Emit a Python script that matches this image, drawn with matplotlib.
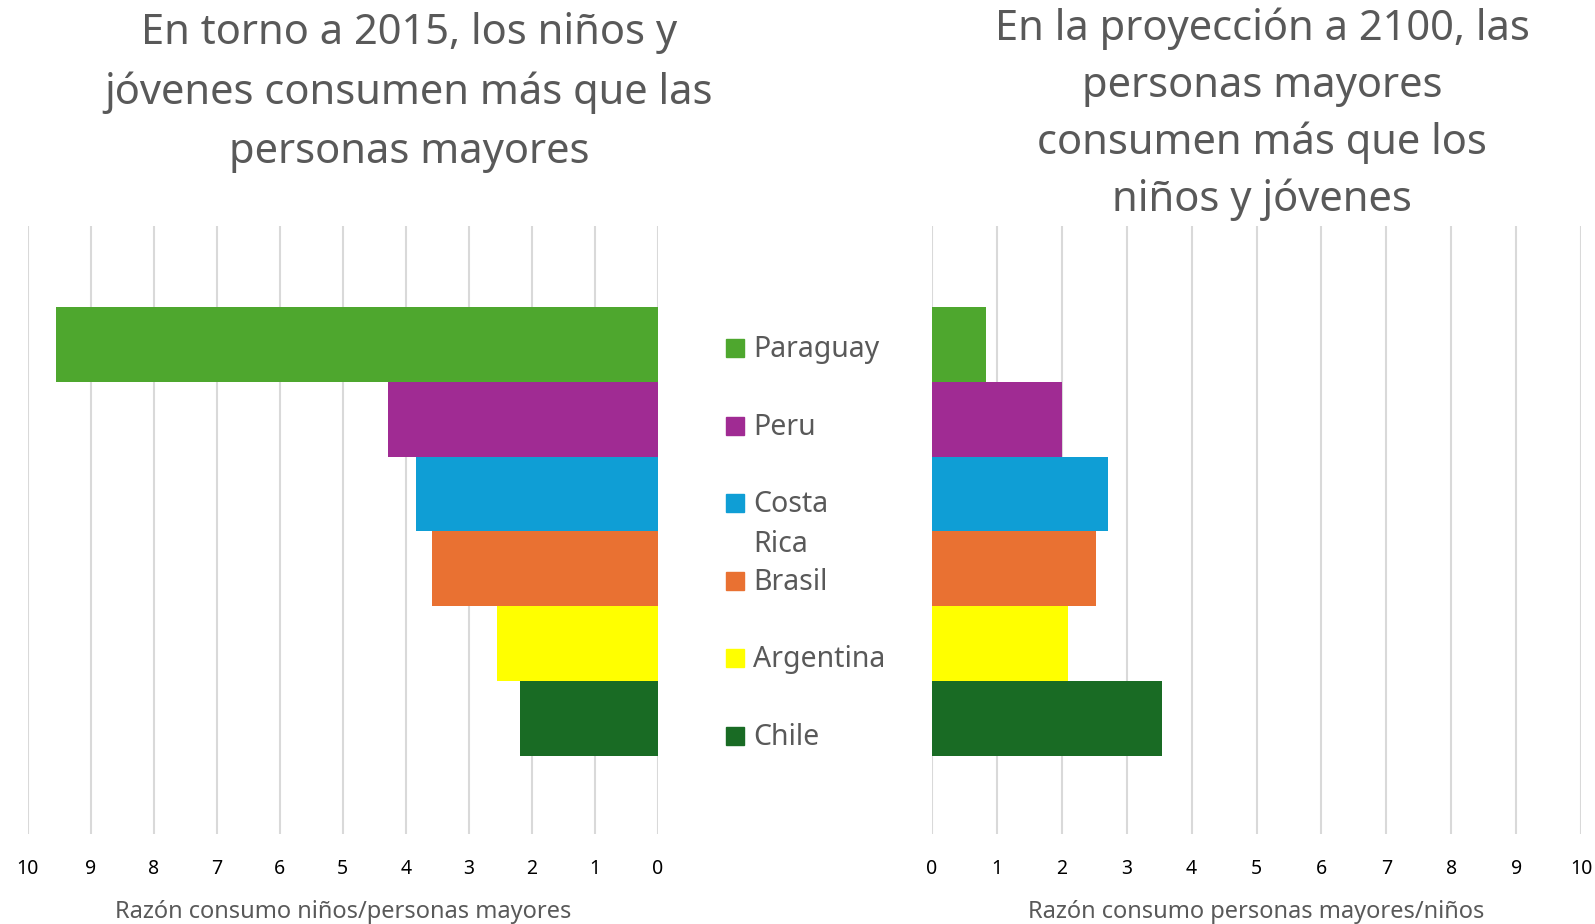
import matplotlib.pyplot as plt
from matplotlib.patches import Rectangle

countries = ["Paraguay", "Peru", "Costa Rica", "Brasil", "Argentina", "Chile"]
ninos_mayores_2015 = [9.55, 4.28, 3.84, 3.58, 2.56, 2.19]
mayores_ninos_2100 = [0.83, 2.00, 2.71, 2.52, 2.09, 3.54]
colors = ["#4EA72E", "#A02B93", "#0F9ED5", "#E97132", "#FFFF00", "#196B24"]
ticks = list(range(11))

title_left = "En torno a 2015, los niños y\njóvenes consumen más que las\npersonas mayores"
title_right = "En la proyección a 2100, las\npersonas mayores\nconsumen más que los\nniños y jóvenes"
xlabel_left = "Razón consumo niños/personas mayores"
xlabel_right = "Razón consumo personas mayores/niños"

plt.rcParams['font.family'] = ['Noto Sans', 'DejaVu Sans']
W, H = 1595, 924
fig = plt.figure(figsize=(W / 100, H / 100), dpi=100)

grey = "#595959"
axl = fig.add_axes([27.5 / W, 90 / H, 630.5 / W, 608 / H])
axr = fig.add_axes([932 / W, 90 / H, 649 / W, 608 / H])

ypos = list(range(len(countries)))
axl.barh(ypos, ninos_mayores_2015, height=1.0, color=colors, zorder=2)
axr.barh(ypos, mayores_ninos_2100, height=1.0, color=colors, zorder=2)

axl.set_xlim(10, 0)
axr.set_xlim(0, 10)
for ax, lab in ((axl, xlabel_left), (axr, xlabel_right)):
    ax.set_ylim(5.5 + 1.04, -0.5 - 1.08)
    ax.set_xticks(ticks)
    ax.set_yticks([])
    ax.grid(axis='x', color="#d9d9d9", linewidth=1.5, zorder=0)
    for s in ax.spines.values():
        s.set_visible(False)
    ax.tick_params(axis='x', length=0, pad=18, labelsize=14, labelcolor="black")
    ax.set_xlabel(lab, fontsize=17, color=grey, labelpad=15)

fig.text(409 / W, 1 - 12 / H, title_left, ha='center', va='top', fontsize=30,
         color=grey, linespacing=1.53)
fig.text(1262 / W, 1 - 8 / H, title_right, ha='center', va='top', fontsize=30,
         color=grey, linespacing=1.45)

# legend in the middle
for i, (name, c) in enumerate(zip(countries, colors)):
    yc = 346 + i * 77.6
    fig.patches.append(Rectangle((726 / W, 1 - (yc + 11) / H), 18 / W, 18 / H,
                                 transform=fig.transFigure, color=c))
    for j, part in enumerate(name.split(" ")):
        fig.text(753 / W, 1 - (yc + j * 40) / H, part, ha='left',
                 va='center_baseline', fontsize=20.5, color=grey)

fig.savefig("out.png", dpi=100)
